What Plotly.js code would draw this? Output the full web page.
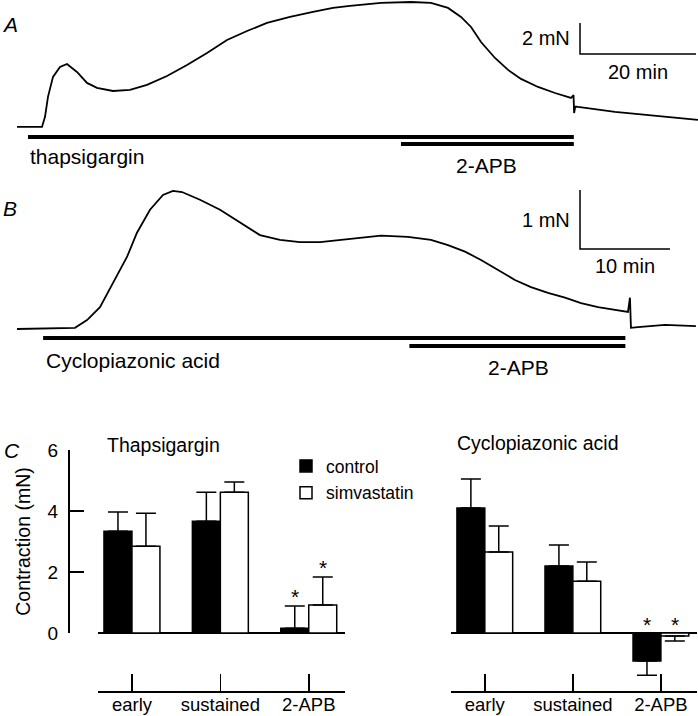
<!DOCTYPE html>
<html>
<head>
<meta charset="utf-8">
<script src="https://cdn.plot.ly/plotly-3.0.1.min.js"></script>
<style>
	html, body { margin: 0; padding: 0; background: #ffffff; }
	#fig { width: 698px; height: 716px; }
</style>
</head>
<body>
<div id="fig"></div>
<script>
// Panel A: tension trace under thapsigargin (time in min, force in mN)
var aTime  = [ 0, 4.31, 4.83, 5.34, 6.21, 7.41, 8.62, 10.34, 12.07, 13.79, 16.55, 19.48, 22.41, 25.86, 29.31,
	32.76, 36.21, 39.66, 43.10, 47.07, 51.03, 54.48, 57.41, 62.76, 67.93, 71.38, 74.31, 76.55, 78.28, 80.0,
	82.41, 84.66, 86.90, 89.83, 92.76, 95.52, 95.95, 96.05, 96.25, 96.72, 103.1, 108.8, 117.4 ];
var aForce = [ 0, 0, 0.65, 1.94, 3.23, 3.87, 4.06, 3.55, 2.84, 2.52, 2.32, 2.39, 2.71, 3.29, 4.0,
	4.77, 5.61, 6.19, 6.71, 7.10, 7.42, 7.68, 7.81, 8.0, 8.06, 8.0, 7.68, 7.10, 6.45, 5.48,
	4.45, 3.68, 3.10, 2.58, 2.19, 1.87, 2.06, 0.90, 1.32, 1.29, 0.97, 0.77, 0.45 ];

// Drug application periods, panel A (min)
var aThapsigargin = [ 1.9, 96.0 ];
var aApb          = [ 66.2, 96.0 ];

// Panel B: tension trace under cyclopiazonic acid (time in min, force in mN)
var bTime  = [ 0, 6.44, 7.78, 9.22, 10.67, 12.22, 13.33, 14.78, 16.22, 17.33, 18.33, 20.33, 22.56, 24.78, 27.0,
	29.22, 31.44, 33.67, 37.0, 40.44, 43.44, 46.0, 47.89, 49.78, 51.56, 53.44, 55.33, 57.11, 59.0, 60.89,
	62.67, 64.56, 66.44, 67.89, 68.11, 68.22, 69.0, 72.0, 75.44 ];
var bForce = [ 0, 0.02, 0.15, 0.37, 0.78, 1.22, 1.63, 2.02, 2.27, 2.34, 2.32, 2.19, 2.02, 1.80, 1.59,
	1.51, 1.47, 1.47, 1.53, 1.58, 1.56, 1.51, 1.42, 1.31, 1.17, 1.0, 0.83, 0.71, 0.61, 0.53,
	0.44, 0.37, 0.32, 0.29, 0.53, 0.02, 0.03, 0.07, 0.05 ];

var bCpa = [ 2.9, 67.6 ];
var bApb = [ 43.6, 67.6 ];

// Scale bars (mN, min)
var aScale = [ 2, 20 ];
var bScale = [ 1, 10 ];

// Panel C: mean contraction (mN) and error
var phases        = [ 'early', 'sustained', '2-APB' ];
var tgControl     = [ 3.34, 3.67, 0.16 ];
var tgControlErr  = [ 0.63, 0.95, 0.73 ];
var tgSimva       = [ 2.85, 4.62, 0.92 ];
var tgSimvaErr    = [ 1.08, 0.33, 0.92 ];
var cpaControl    = [ 4.10, 2.20, -0.92 ];
var cpaControlErr = [ 0.95, 0.69, 0.46 ];
var cpaSimva      = [ 2.66, 1.70, -0.10 ];
var cpaSimvaErr   = [ 0.85, 0.63, 0.16 ];
var significant   = [ false, false, true ];


var W = 698, H = 716;
var FONT = 'Liberation Sans, Arial, sans-serif';

function dx( left, right ) { return [ left / W, right / W ]; }
function dy( top, bottom ) { return [ 1 - bottom / H, 1 - top / H ]; }

function line( x, y, xa, ya, width )
{
	return {
		type: 'scatter', mode: 'lines', x: x, y: y, xaxis: xa, yaxis: ya,
		line: { color: '#000', width: width },
		showlegend: false, hoverinfo: 'skip'
	};
}

function scaleBar( x0, y0, s, xa, ya )
{
	return line( [ x0, x0, x0 + s[ 1 ] ], [ y0 + s[ 0 ], y0, y0 ], xa, ya, 1.5 );
}

function bars( name, y, err, fill, xa, legend )
{
	return {
		type: 'bar', name: name, x: phases, y: y, xaxis: xa, yaxis: 'y3',
		marker: { color: fill, line: { color: '#000', width: 1.5 } },
		error_y: {
			type: 'data', symmetric: false,
			array: y.map( ( v, i ) => v >= 0 ? err[ i ] : 0 ),
			arrayminus: y.map( ( v, i ) => v < 0 ? err[ i ] : 0 ),
			color: '#000', thickness: 1.5, width: 10
		},
		showlegend: legend, legendgroup: name, hoverinfo: 'skip'
	};
}

var data = [
	line( aTime, aForce, 'x', 'y', 1.8 ),
	line( aThapsigargin, [ -0.65, -0.65 ], 'x', 'y', 4 ),
	line( aApb, [ -1.1, -1.1 ], 'x', 'y', 4 ),
	scaleBar( 97.07, 4.71, aScale, 'x', 'y' ),

	line( bTime, bForce, 'x2', 'y2', 1.8 ),
	line( bCpa, [ -0.153, -0.153 ], 'x2', 'y2', 4 ),
	line( bApb, [ -0.288, -0.288 ], 'x2', 'y2', 4 ),
	scaleBar( 62.56, 1.356, bScale, 'x2', 'y2' ),

	bars( 'control', tgControl, tgControlErr, '#000', 'x3', true ),
	bars( 'simvastatin', tgSimva, tgSimvaErr, '#fff', 'x3', true ),
	bars( 'control', cpaControl, cpaControlErr, '#000', 'x4', false ),
	bars( 'simvastatin', cpaSimva, cpaSimvaErr, '#fff', 'x4', false ),

	// carries the visible contraction axis
	{ type: 'scatter', x: [], y: [], xaxis: 'x3', yaxis: 'y4', showlegend: false, hoverinfo: 'skip' }
];


// Asterisks above 2-APB bars
var annotations = [];
[ [ 'x3', tgControl, tgControlErr, -14 ], [ 'x3', tgSimva, tgSimvaErr, 14 ],
  [ 'x4', cpaControl, cpaControlErr, -14 ], [ 'x4', cpaSimva, cpaSimvaErr, 14 ] ].forEach( s =>
{
	for( let i = 0; i < phases.length; i++ )
	{
		if( !significant[ i ] )
			continue;
		let top = s[ 1 ][ i ] >= 0 ? s[ 1 ][ i ] + s[ 2 ][ i ] : 0;
		annotations.push( {
			xref: s[ 0 ], yref: 'y3', x: i, y: top, xshift: s[ 3 ], yshift: 9,
			text: '*', showarrow: false, yanchor: 'middle',
			font: { family: FONT, size: 21, color: '#000' }
		} );
	}
} );

function label( text, x, y, xanchor, size, italic )
{
	annotations.push( {
		xref: 'paper', yref: 'paper', x: x / W, y: 1 - y / H,
		xanchor: xanchor, yanchor: 'middle', text: italic ? '<i>' + text + '</i>' : text,
		showarrow: false, font: { family: FONT, size: size, color: '#000' }
	} );
}

label( 'A', 10, 25, 'center', 21, true );
label( 'thapsigargin', 28, 157, 'left', 21 );
label( '2-APB', 486, 165, 'center', 21 );
label( '2 mN', 572, 38, 'right', 20 );
label( '20 min', 638, 72, 'center', 20 );

label( 'B', 10, 209, 'center', 21, true );
label( 'Cyclopiazonic acid', 44, 360, 'left', 21 );
label( '2-APB', 518, 367, 'center', 21 );
label( '1 mN', 572, 220, 'right', 20 );
label( '10 min', 625, 266, 'center', 20 );

label( 'C', 12, 450, 'center', 21, true );
label( 'Thapsigargin', 105, 445, 'left', 19.5 );
label( 'Cyclopiazonic acid', 455, 443, 'left', 19.5 );


var hidden = { visible: false, fixedrange: true };
var catAxis = {
	type: 'category', range: [ -0.384, 2.41 ], anchor: 'y3',
	showline: true, linecolor: '#000', linewidth: 1.5,
	ticks: 'inside', ticklen: 17, tickwidth: 1.5, tickcolor: '#000',
	ticklabelstandoff: -4,
	showgrid: false, tickfont: { family: FONT, size: 18.5, color: '#000' }
};

var layout = {
	width: W, height: H,
	margin: { l: 0, r: 0, t: 0, b: 0 },
	paper_bgcolor: '#fff', plot_bgcolor: 'rgba(0,0,0,0)',
	showlegend: true,
	barmode: 'group', bargap: 0.367, bargroupgap: 0,

	xaxis:  Object.assign( { domain: dx( 0, 698 ), range: [ -2.93, 117.41 ], anchor: 'y' }, hidden ),
	yaxis:  Object.assign( { domain: dy( 0, 175 ), range: [ -3.10, 8.19 ], anchor: 'x' }, hidden ),
	xaxis2: Object.assign( { domain: dx( 0, 698 ), range: [ -1.89, 75.67 ], anchor: 'y2' }, hidden ),
	yaxis2: Object.assign( { domain: dy( 182, 352 ), range: [ -0.39, 2.49 ], anchor: 'x2' }, hidden ),

	xaxis3: Object.assign( { domain: dx( 98, 345 ) }, catAxis ),
	xaxis4: Object.assign( { domain: dx( 451, 697 ) }, catAxis ),
	yaxis3: {
		domain: dy( 440, 691 ), range: [ -1.90, 6.33 ], anchor: 'x3',
		showline: false, showgrid: false, ticks: '', showticklabels: false,
		zeroline: true, zerolinecolor: '#000', zerolinewidth: 1.5
	},
	yaxis4: {
		domain: dy( 450, 633 ), range: [ 0, 6 ], anchor: 'free', position: 68 / W, side: 'left',
		showline: true, linecolor: '#000', linewidth: 1.5, showgrid: false, zeroline: false,
		ticks: 'inside', ticklen: 14, tickwidth: 1.5, tickcolor: '#000',
		tickvals: [ 0, 2, 4, 6 ], ticklabelstandoff: 6,
		tickfont: { family: FONT, size: 19, color: '#000' },
		title: { text: 'Contraction (mN)', standoff: 10, font: { family: FONT, size: 19.5, color: '#000' } }
	},

	legend: {
		x: 286 / W, y: 1 - 448 / H, xanchor: 'left', yanchor: 'top',
		bgcolor: 'rgba(0,0,0,0)', tracegroupgap: 1,
		font: { family: FONT, size: 17.5, color: '#000' }
	},
	annotations: annotations
};

Plotly.newPlot( 'fig', data, layout, { staticPlot: true } );
</script>
</body>
</html>
